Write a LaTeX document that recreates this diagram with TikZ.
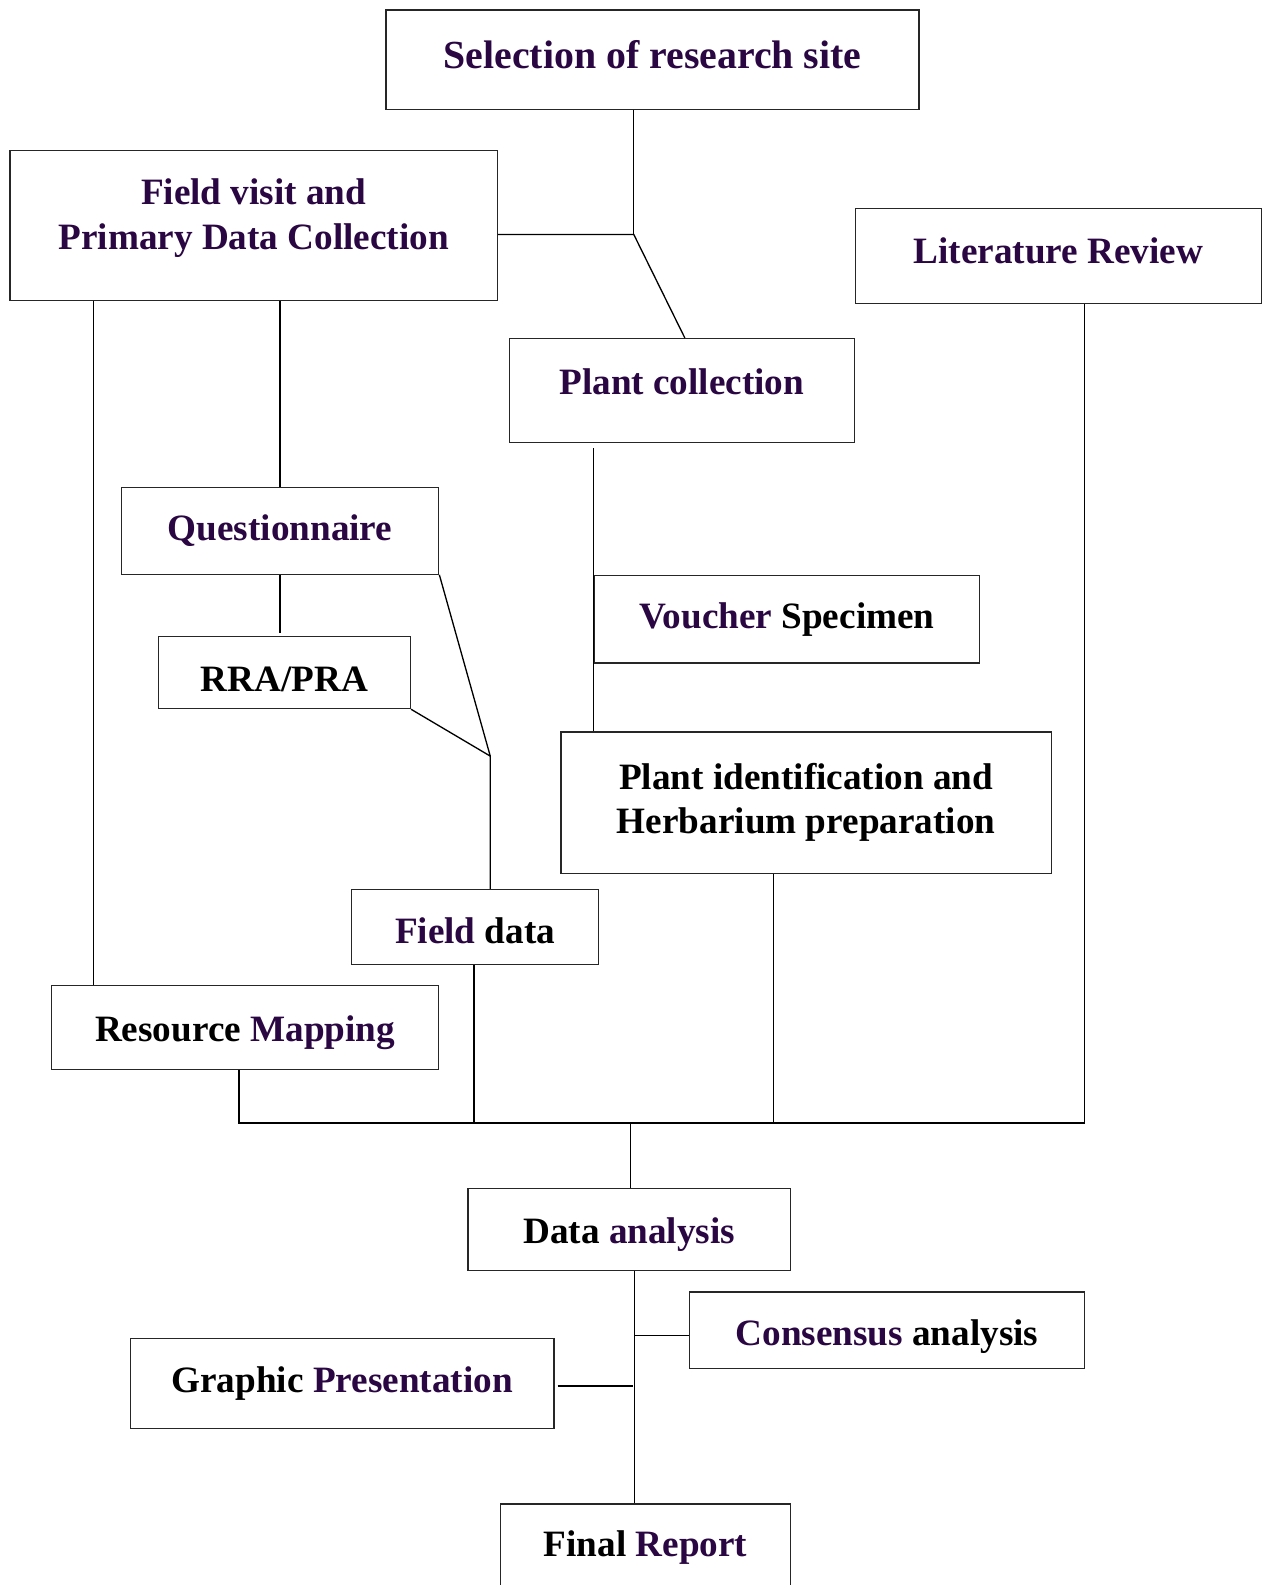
\documentclass[tikz,border=0pt]{standalone}
\usepackage{fontspec}
\setmainfont{Liberation Serif}
\usepackage{xcolor}
\usepackage{tikz}
\usetikzlibrary{positioning, calc}
\definecolor{plum}{RGB}{42,6,66}

\begin{document}
\begin{tikzpicture}[
  x=1pt, y=-1pt,
  box/.style={
    rectangle, draw=black!85, line width=1.3pt,
    align=center, text=plum, inner sep=0pt,
    font=\fontsize{36.8}{44}\selectfont\bfseries,
  },
  link/.style={line width=1.3pt, black},
]
\useasboundingbox (0,0) rectangle (1255,1568);

% ── Top: site selection and field visit
\node[box, minimum width=527pt, minimum height=98pt, text depth=10pt,
      font=\fontsize{39.4}{46}\selectfont\bfseries] (selection) at (645.5,59)
  {Selection of research site};

\node[box, minimum width=482pt, minimum height=148pt, text depth=22pt] (fieldVisit) at (251,223)
  {Field visit and\\Primary Data Collection};

\node[box, minimum width=402pt, minimum height=94pt, text depth=10pt] (litReview) at (1047,253)
  {Literature Review};

\node[box, minimum width=341pt, minimum height=103pt, text depth=18pt] (plantColl) at (674.5,386.5)
  {Plant collection};

\coordinate (siteHub) at (627,232);
\draw[link] (selection.south -| siteHub) -- (siteHub);
\draw[link] (fieldVisit.east |- siteHub) -- (siteHub) -- ([xshift=3pt]plantColl.north);

% ── Left branch: questionnaire, RRA/PRA, field data
\node[box, minimum width=314pt, minimum height=86pt] (question) at (277,525)
  {Questionnaire};

\node[box, minimum width=249pt, minimum height=71pt, text height=38pt, text=black] (rraPra) at (281.5,665.5)
  {RRA/PRA};

\node[box, minimum width=244pt, minimum height=74pt, text height=33pt] (fieldData) at (470,917)
  {Field \textcolor{black}{data}};

\node[box, minimum width=383pt, minimum height=83pt, text height=35pt] (resMap) at (242.5,1016.5)
  {\textcolor{black}{Resource} Mapping};

\draw[link] ([xshift=83pt]fieldVisit.south west) -- ([xshift=42pt]resMap.north west);
\draw[link] (fieldVisit.south -| question.north) -- (question.north);
\draw[link] (question.south) -- ([yshift=3pt]question.south |- rraPra.north);

\coordinate (dataHub) at (485,748);
\draw[link] (question.south east) -- (dataHub);
\draw[link] (rraPra.south east) -- (dataHub) -- (dataHub |- fieldData.north);

% ── Right branch: voucher and identification
\node[box, minimum width=381pt, minimum height=87pt] (voucher) at (778.5,612.5)
  {Voucher \textcolor{black}{Specimen}};

\node[box, minimum width=485pt, minimum height=140pt, text=black] (plantId) at (797.5,794)
  {Plant identification and\\Herbarium preparation};

\draw[link] ([yshift=-5pt]plantColl.south -| voucher.west) -- (plantId.north -| voucher.west);

% ── Collecting bus
\coordinate (bus) at (624,1111);
\coordinate (busEnd) at (1073,1111);
\draw[link] ([xshift=-6pt]resMap.south) |- (busEnd) -- (busEnd |- litReview.south);
\draw[link] ([xshift=-1pt]fieldData.south) -- ([xshift=-1pt]fieldData.south |- bus);
\draw[link] ([xshift=-32.5pt]plantId.south) -- ([xshift=-32.5pt]plantId.south |- bus);

% ── Analysis and report
\node[box, minimum width=319pt, minimum height=81pt, text height=35pt] (dataAna) at (622.5,1216.5)
  {\textcolor{black}{Data} analysis};

\node[box, minimum width=391pt, minimum height=76pt, text height=39pt] (consensus) at (877.5,1316)
  {Consensus \textcolor{black}{analysis}};

\node[box, minimum width=419pt, minimum height=89pt] (graphic) at (338.5,1368.5)
  {\textcolor{black}{Graphic} Presentation};

\node[box, minimum width=287pt, minimum height=86pt] (finalRep) at (638.5,1531)
  {\textcolor{black}{Final} Report};

\draw[link] (bus) -- (bus |- dataAna.north);

\coordinate (spine) at (628,1321);
\draw[link] (dataAna.south -| spine) -- (finalRep.north -| spine);
\draw[link] (spine) -- (consensus.west |- spine);
\draw[link] ([xshift=3pt,yshift=-2.5pt]graphic.east) -- ([xshift=-2pt,yshift=-2.5pt]graphic.east -| spine);

\end{tikzpicture}
\end{document}
